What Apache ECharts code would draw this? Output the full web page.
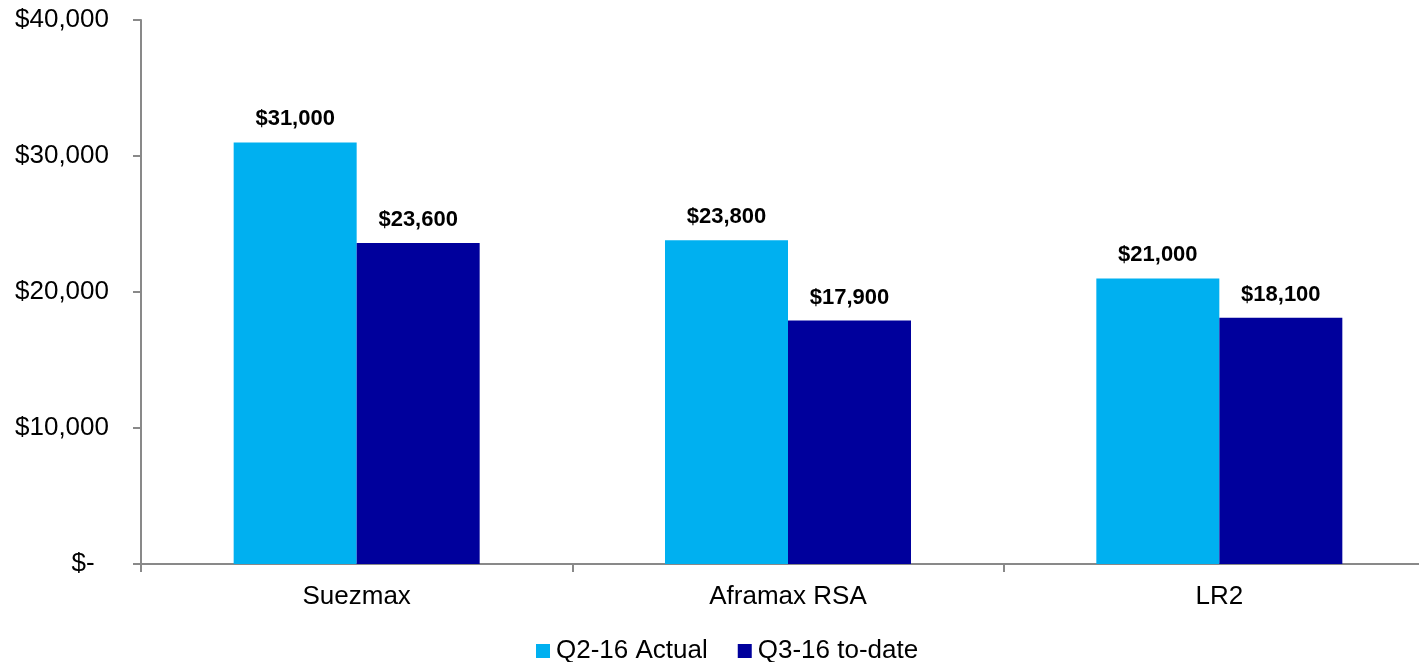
<!DOCTYPE html>
<html>
<head>
<meta charset="utf-8">
<script src="https://cdn.jsdelivr.net/npm/echarts@6/dist/echarts.min.js"></script>
<style>
html,body{margin:0;padding:0;background:#fff;overflow:hidden;width:1419px;height:662px;}
#chart{width:1435px;height:662px;}
</style>
</head>
<body>
<div id="chart"></div>
<script>
var categories = ['Suezmax', 'Aframax RSA', 'LR2'];
var seriesNames = ['Q2-16 Actual', 'Q3-16 to-date'];
var q2Actual = [31000, 23800, 21000];
var q3ToDate = [23600, 17900, 18100];

function money(v) {
  if (v === 0) return '$-  ';
  return '$' + v.toString().replace(/\B(?=(\d{3})+(?!\d))/g, ',');
}

var chart = echarts.init(document.getElementById('chart'));
var labelStyle = {
  show: true,
  position: 'top',
  distance: 12,
  fontFamily: 'Liberation Sans, Arial, sans-serif',
  fontSize: 22,
  fontWeight: 'bold',
  color: '#000',
  formatter: function (p) { return money(p.value); }
};
chart.setOption({
  animation: false,
  textStyle: { fontFamily: 'Liberation Sans, Arial, sans-serif' },
  grid: { left: 141, top: 20, right: 0, bottom: 98, containLabel: false },
  legend: {
    data: seriesNames,
    left: 536,
    top: 638,
    padding: 0,
    itemWidth: 14,
    itemHeight: 14,
    itemGap: 30,
    icon: 'rect',
    textStyle: { fontSize: 26, color: '#000', padding: [0, 0, 0, 1] }
  },
  xAxis: {
    type: 'category',
    data: categories,
    axisLine: { lineStyle: { color: '#898989', width: 2 } },
    axisTick: { show: true, length: 8, lineStyle: { color: '#898989', width: 2 } },
    axisLabel: { fontSize: 26, color: '#000', margin: 20 }
  },
  yAxis: {
    type: 'value',
    min: 0,
    max: 40000,
    interval: 10000,
    splitLine: { show: false },
    axisLine: { show: true, lineStyle: { color: '#898989', width: 2 } },
    axisTick: { show: true, length: 8, lineStyle: { color: '#898989', width: 2 } },
    axisLabel: { fontSize: 26, color: '#000', margin: 32, formatter: money }
  },
  series: [
    {
      name: seriesNames[0],
      type: 'bar',
      data: q2Actual,
      barWidth: 123,
      barGap: '0%',
      itemStyle: { color: '#00B0F0' },
      label: labelStyle
    },
    {
      name: seriesNames[1],
      type: 'bar',
      data: q3ToDate,
      barWidth: 123,
      barGap: '0%',
      itemStyle: { color: '#00009C' },
      label: labelStyle
    }
  ]
});
</script>
</body>
</html>
